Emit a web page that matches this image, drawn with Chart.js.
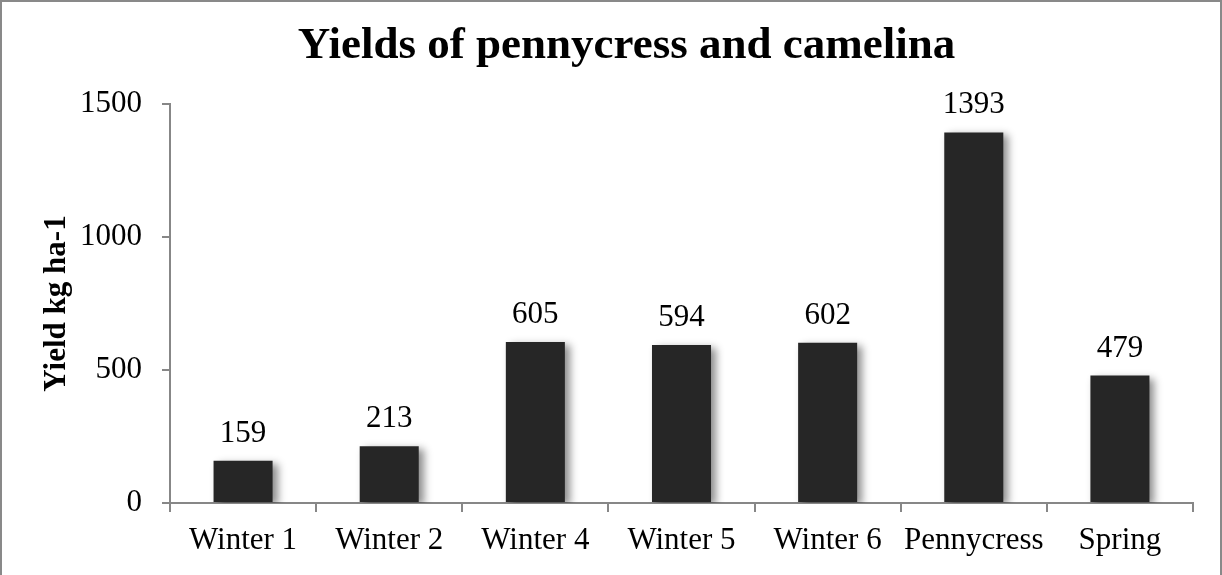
<!DOCTYPE html>
<html lang="en">
<head>
    <meta charset="UTF-8">
    <title>Yields of pennycress and camelina</title>
    <script src="https://cdn.jsdelivr.net/npm/chart.js"></script>
    <style>
        body {
            margin: 0;
            padding: 0;
            background-color: white;
        }
        .frame {
            width: 1222px;
            height: 575px;
            box-sizing: border-box;
            border: 2px solid #898989;
            border-bottom: none;
            overflow: hidden;
        }
        canvas {
            display: block;
        }
    </style>
</head>
<body>
    <div class="frame">
        <canvas id="yieldChart" width="1218" height="573"></canvas>
    </div>
    <script>
        // данные с картинки
        const categories = ['Winter 1', 'Winter 2', 'Winter 4', 'Winter 5', 'Winter 6', 'Pennycress', 'Spring'];
        const yields = [159, 213, 605, 594, 602, 1393, 479];
        const yTicks = [0, 500, 1000, 1500];

        const serif = "'Times New Roman', 'Liberation Serif', serif";
        const axisGray = '#878787';

        // тень справа от столбцов
        const barShadow = {
            id: 'barShadow',
            beforeDatasetsDraw(chart) {
                const ctx = chart.ctx;
                ctx.save();
                ctx.shadowColor = 'rgba(0, 0, 0, 0.45)';
                ctx.shadowBlur = 8;
                ctx.shadowOffsetX = 5;
                ctx.shadowOffsetY = 3;
            },
            afterDatasetsDraw(chart) {
                chart.ctx.restore();
            }
        };

        // подписи значений над столбцами
        const valueLabels = {
            id: 'valueLabels',
            afterDatasetsDraw(chart) {
                const ctx = chart.ctx;
                const meta = chart.getDatasetMeta(0);
                ctx.save();
                ctx.font = '31px ' + serif;
                ctx.fillStyle = '#000';
                ctx.textAlign = 'center';
                ctx.textBaseline = 'alphabetic';
                meta.data.forEach((bar, i) => {
                    ctx.fillText(String(yields[i]), bar.x, bar.y - 19);
                });
                ctx.restore();
            }
        };

        const ctx = document.getElementById('yieldChart').getContext('2d');
        const yieldChart = new Chart(ctx, {
            type: 'bar',
            data: {
                labels: categories,
                datasets: [{
                    data: yields,
                    backgroundColor: '#262626',
                    borderWidth: 0,
                    barPercentage: 0.404,
                    categoryPercentage: 1
                }]
            },
            options: {
                responsive: false,
                animation: false,
                layout: {
                    padding: { left: 58, right: 27, top: 0, bottom: 0 }
                },
                plugins: {
                    legend: { display: false },
                    tooltip: { enabled: false },
                    title: {
                        display: true,
                        text: 'Yields of pennycress and camelina',
                        color: '#000',
                        font: { family: serif, size: 45, weight: 'bold' },
                        padding: { top: 17, bottom: 31 }
                    }
                },
                scales: {
                    x: {
                        afterFit(scale) { scale.height = 72; },
                        grid: {
                            drawOnChartArea: false,
                            drawTicks: true,
                            tickLength: 9,
                            color: axisGray,
                            lineWidth: 2
                        },
                        border: { display: true, color: axisGray, width: 2 },
                        ticks: {
                            color: '#000',
                            font: { family: serif, size: 31 },
                            padding: 10,
                            maxRotation: 0,
                            autoSkip: false
                        }
                    },
                    y: {
                        min: 0,
                        max: 1500,
                        afterFit(scale) { scale.width = 110; },
                        afterBuildTicks(scale) {
                            scale.ticks = yTicks.map(v => ({ value: v }));
                        },
                        grid: {
                            drawOnChartArea: false,
                            drawTicks: true,
                            tickLength: 8,
                            color: axisGray,
                            lineWidth: 2
                        },
                        border: { display: true, color: axisGray, width: 2 },
                        ticks: {
                            color: '#000',
                            font: { family: serif, size: 31 },
                            padding: 20,
                            callback: v => String(v)
                        },
                        title: {
                            display: true,
                            text: 'Yield kg ha-1',
                            color: '#000',
                            font: { family: serif, size: 31, weight: 'bold' },
                            padding: { top: -22, bottom: 0 }
                        }
                    }
                }
            },
            plugins: [barShadow, valueLabels]
        });
    </script>
</body>
</html>
